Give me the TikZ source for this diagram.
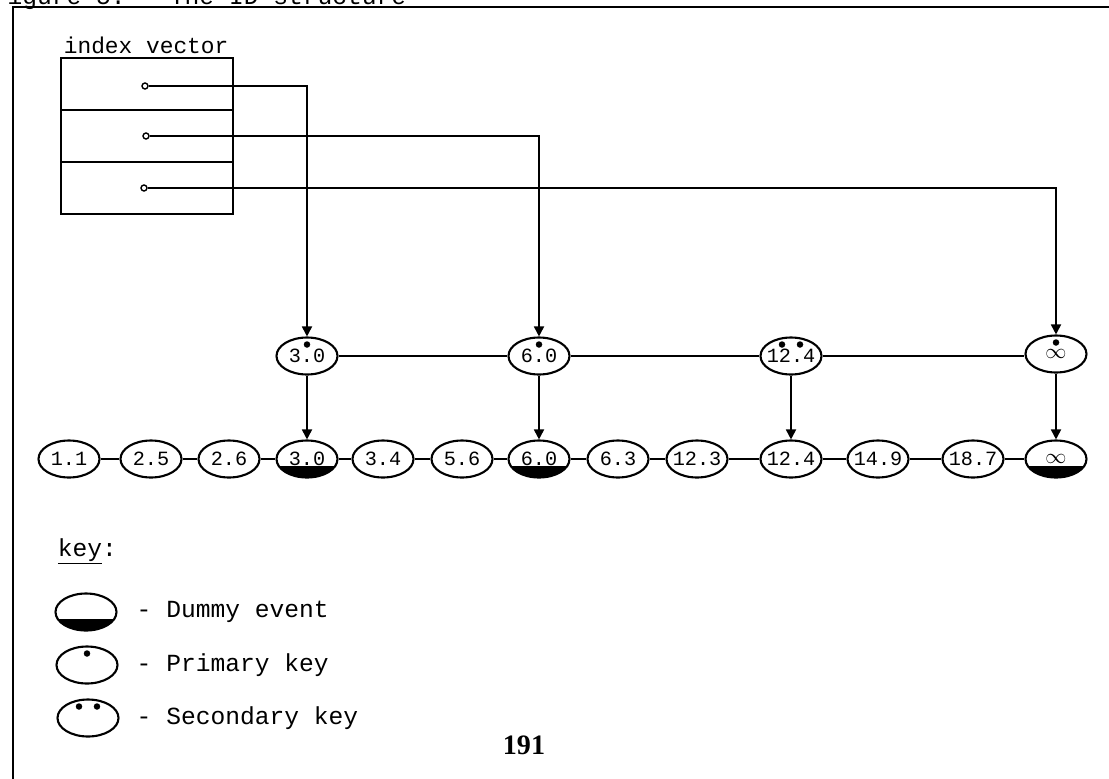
\documentclass[tikz,border=0pt]{standalone}
\usepackage{fontspec}
\setmainfont{Liberation Serif}
\setmonofont{Liberation Mono}
\usetikzlibrary{arrows.meta,shapes.geometric}

\tikzset{
  evt/.style={draw,ellipse,line width=1.2pt,minimum width=1.22cm,minimum height=0.74cm,inner sep=0pt},
  num/.style={font=\ttfamily\fontsize{11.5}{13}\selectfont,inner sep=0pt},
  dummy/.style={path picture={\fill ([yshift=-0.13cm]path picture bounding box.west) rectangle (path picture bounding box.south east);}},
  primary/.style={path picture={\fill ([yshift=-0.14cm]path picture bounding box.north) circle (0.065cm);}},
  secondary/.style={path picture={
      \fill ([xshift=-0.18cm,yshift=-0.14cm]path picture bounding box.north) circle (0.065cm);
      \fill ([xshift=0.18cm,yshift=-0.14cm]path picture bounding box.north) circle (0.065cm);}},
  ptr/.style={-{Triangle[length=0.2cm,width=0.2cm]}},
  slot/.style={draw,circle,inner sep=0pt,minimum size=0.12cm,line width=0.8pt},
  txt/.style={font=\ttfamily\fontsize{13}{15}\selectfont},
  keytxt/.style={font=\ttfamily\fontsize{14}{16}\selectfont},
}

\begin{document}
\begin{tikzpicture}[x=0.02cm,y=-0.02cm,line width=1pt]
  \useasboundingbox (0,0) rectangle (1109,778);
  % frame, title is cut off by the page top
  \draw (13,800) -- (13,7) -- (1130,7);
  \node[keytxt,anchor=base west,inner sep=0pt] (title) at (-8,4) {Figure 5.~~ The ID structure};

  % index vector
  \node[txt,anchor=base west,inner sep=0pt] (ivlab) at (63,53) {index vector};
  \draw (61,58) rectangle (233,214);
  \draw (61,110) -- (233,110) (61,162) -- (233,162);
  \node[slot] (p1) at (145,86) {};
  \node[slot] (p2) at (146,136) {};
  \node[slot] (p3) at (144,188) {};

  % upper level (keys)
  \node[evt,primary,label={[num]center:3.0}] (u1) at (307,356) {};
  \node[evt,primary,label={[num]center:6.0}] (u2) at (539,356) {};
  \node[evt,secondary,label={[num]center:12.4}] (u3) at (791,356) {};
  \node[evt,primary,label={[num]center:$\infty$}] (u4) at (1056,354) {};
  \draw (u1) -- (u2) -- (u3) -- (u4.west |- u3);

  % lower level (all events)
  \foreach \x/\v/\s [count=\i] in {69/1.1/, 151/2.5/, 229/2.6/, 307/3.0/dummy,
      383/3.4/, 462/5.6/, 539/6.0/dummy, 618/6.3/, 697/12.3/, 791/12.4/,
      878/14.9/, 973/18.7/, 1056/$\infty$/dummy}
    \node[evt,\s,label={[num]center:\v}] (b\i) at (\x,459) {};
  \foreach \i [evaluate=\i as \j using int(\i+1)] in {1,...,12}
    \draw (b\i) -- (b\j);

  % pointers
  \draw[ptr] (p1) -| (u1);
  \draw[ptr] (p2) -| (u2);
  \draw[ptr] (p3) -| (u4);
  \draw[ptr] (u1) -- (b4);
  \draw[ptr] (u2) -- (b7);
  \draw[ptr] (u3) -- (b10);
  \draw[ptr] (u4) -- (b13);

  % key
  \node[keytxt,anchor=base west,inner sep=0pt] (keylab) at (57,556) {\underline{key}:};
  \node[evt,dummy] (k1) at (86,612) {};
  \node[keytxt,anchor=west] (k1t) at (130,612) {- Dummy event};
  \node[evt,primary] (k2) at (87,665) {};
  \node[keytxt,anchor=west] (k2t) at (130,665) {- Primary key};
  \node[evt,secondary] (k3) at (88,718) {};
  \node[keytxt,anchor=west] (k3t) at (130,718) {- Secondary key};

  % page number
  \node[font=\bfseries\fontsize{16}{18}\selectfont] (page) at (524,745) {191};
\end{tikzpicture}
\end{document}
